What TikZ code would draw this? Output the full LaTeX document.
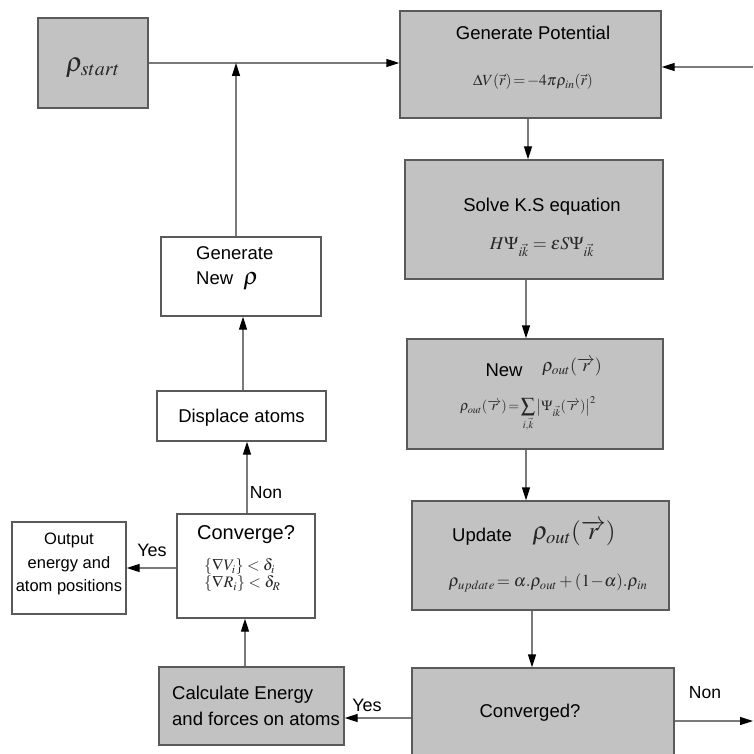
\documentclass[tikz,border=0pt]{standalone}
\usepackage{mathptmx}
\usepackage{fontspec}
\setmainfont{Liberation Sans}
\usetikzlibrary{arrows.meta}
\definecolor{boxfill}{HTML}{C2C2C2}
\definecolor{boxline}{HTML}{5A5A5A}
\definecolor{wire}{HTML}{7A7A7A}
\newcommand{\fs}[1]{\fontsize{#1}{#1}\selectfont}

\begin{document}
\begin{tikzpicture}[x=1pt,y=-1pt,
  box/.style={draw=boxline, line width=1.3pt, inner sep=0pt},
  shaded/.style={box, fill=boxfill},
  plain/.style={box, fill=white},
  flow/.style={draw=wire, line width=1.3pt,
    -{Triangle[length=13pt,width=8pt,color=black]}},
  lbl/.style={inner sep=0pt, font=\fs{18.5}},
  eq/.style={inner sep=0pt, text=black!85}]

\clip (0,0) rectangle (753,754);

% ---- boxes ----
\node[shaded, minimum width=110, minimum height=90]  (start) at (93,63) {};
\node[shaded, minimum width=261, minimum height=107] (gp)    at (530.5,64.5) {};
\node[shaded, minimum width=258, minimum height=119] (ks)    at (534,219.5) {};
\node[shaded, minimum width=256, minimum height=110] (new)   at (535,394) {};
\node[shaded, minimum width=257, minimum height=109] (upd)   at (540.5,555.5) {};
\node[shaded, minimum width=262, minimum height=122] (conv)  at (543,729) {};
\node[shaded, minimum width=185, minimum height=78]  (calc)  at (251.5,706) {};
\node[plain,  minimum width=138, minimum height=104] (cvg)   at (246,566) {};
\node[plain,  minimum width=114, minimum height=92]  (out)   at (69,568) {};
\node[plain,  minimum width=169, minimum height=50]  (disp)  at (241.5,416) {};
\node[plain,  minimum width=160, minimum height=79]  (gen)   at (241,276.5) {};

% ---- texts ----
\node[eq] (tstart) at (93,68) {\fs{27}$\rho_{start}$};

\node[lbl] (tgp) at (533,33) {Generate Potential};
\node[eq]  (egp) at (533,82) {\fs{15.5}$\Delta V(\vec r)\!=\!-4\pi\rho_{in}(\vec r)$};

\node[lbl] (tks) at (542,207) {Solve K.S equation};
\node[eq]  (eks) at (542,247) {\fs{18}$H\Psi_{i\vec k} = \varepsilon S\Psi_{i\vec k}$};

\node[lbl] (tnew) at (504,370) {New};
\node[eq]  (rnew) at (572,367) {\fs{18}$\rho_{out}(\overrightarrow{r})$};
\node[eq]  (enew) at (528,414) {\fs{14}$\rho_{out}(\overrightarrow{r})\!=\!\displaystyle\sum_{i,\vec k}\left|\Psi_{i\vec k}(\overrightarrow{r})\right|^2$};

\node[lbl] (tupd) at (482,537) {Update};
\node[eq]  (rupd) at (574,533) {\fs{25}$\rho_{out}(\overrightarrow{r})$};
\node[eq]  (eupd) at (548,583) {\fs{17}$\rho_{update}\!=\alpha.\rho_{out}+(1\!-\!\alpha).\rho_{in}$};

\node[lbl] (tconv) at (530,713) {Converged?};
\node[lbl, anchor=west, align=left] (tcalc) at (172,706)
  {Calculate Energy\\[8pt]and forces on atoms};

\node[lbl, font=\fs{20}] (tcvg) at (246,535) {Converge?};
\node[eq, anchor=west] (ecvg1) at (204,567) {\fs{16}$\{\nabla V_i\} < \delta_i$};
\node[eq, anchor=west] (ecvg2) at (204,584) {\fs{16}$\{\nabla R_i\} < \delta_R$};

\node[lbl, font=\fs{16.5}, align=center] (tout) at (69,564)
  {Output\\[7pt]energy and\\[7pt]atom positions};

\node[lbl] (tdisp) at (241.5,418) {Displace atoms};

\node[lbl, anchor=west] (tgen1) at (196,253) {Generate};
\node[lbl, anchor=west] (tgen2) at (196,281) {New \ \fs{24}$\rho$};

% ---- connectors ----
\coordinate (rin)  at (753,67);
\coordinate (rout) at (753,721);

\draw[flow] (start.east) -- (start.east -| gp.west);
\draw[flow] ([xshift=-5pt]gen.north) -- ([xshift=-5pt]gen.north |- start.east);
\draw[flow] (rin) -- (rin -| gp.east);
\draw[flow] ([xshift=-2.5pt]gp.south) -- ([xshift=-2.5pt]gp.south |- ks.north);
\draw[flow] ([xshift=-8pt]ks.south) -- ([xshift=-8pt]ks.south |- new.north);
\draw[flow] ([xshift=-9pt]new.south) -- ([xshift=-9pt]new.south |- upd.north);
\draw[flow] ([xshift=-8.5pt]upd.south) -- ([xshift=-8.5pt]upd.south |- conv.north);
\draw[flow] ([yshift=8pt]conv.east) -- (rout);
\draw[flow] ([yshift=11pt]conv.west) -- ([yshift=11pt]conv.west -| calc.east);
\draw[flow] ([xshift=-6.5pt]calc.north) -- ([xshift=-6.5pt]calc.north |- cvg.south);
\draw[flow] ([yshift=-2pt]cvg.west) -- ([yshift=-2pt]cvg.west -| out.east);
\draw[flow] ([xshift=1pt]cvg.north) -- ([xshift=1pt]cvg.north |- disp.south);
\draw[flow] ([xshift=1.5pt]disp.north) -- ([xshift=1.5pt]disp.north |- gen.south);

% ---- branch labels ----
\node[lbl, font=\fs{17.5}] (nonr) at (705,693) {Non};
\node[lbl, font=\fs{18}] (yesc) at (367,705) {Yes};
\node[lbl, font=\fs{18}] (yeso) at (152,550) {Yes};
\node[lbl, font=\fs{17.5}] (nonu) at (266,493) {Non};
\end{tikzpicture}
\end{document}
